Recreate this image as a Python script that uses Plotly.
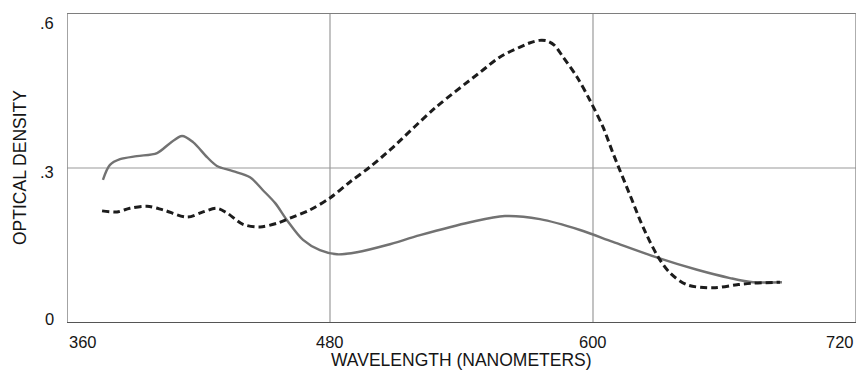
import plotly.graph_objects as go

# Absorption spectra: optical density vs wavelength (nm)
solid_wavelength = [376.4, 379.6, 384.2, 391.9, 401.1, 407.0, 412.5, 417.5, 423.9, 428.4,
                    435.7, 443.5, 449.4, 455.0, 460.4, 467.7, 475.4, 483.2, 492.3, 506.0,
                    521.1, 543.9, 559.8, 575.8, 594.1, 609.1, 629.7, 647.5, 662.5, 673.0, 686.2]
solid_density = [0.277, 0.306, 0.317, 0.323, 0.329, 0.348, 0.362, 0.350, 0.321, 0.304,
                 0.294, 0.282, 0.257, 0.232, 0.199, 0.161, 0.141, 0.133, 0.137, 0.151,
                 0.170, 0.195, 0.207, 0.201, 0.180, 0.157, 0.126, 0.103, 0.087, 0.079, 0.079]

dashed_wavelength = [376.0, 382.8, 388.7, 396.5, 403.8, 414.8, 422.1, 428.4, 433.0, 440.3,
                     448.1, 455.8, 461.7, 470.9, 480.0, 489.1, 498.2, 507.4, 527.9, 548.4,
                     557.6, 566.7, 571.0, 575.5, 579.0, 582.3, 586.3, 592.7, 598.6, 604.6,
                     609.1, 617.8, 622.8, 629.7, 635.1, 642.9, 654.7, 665.7, 673.0, 685.3]
dashed_density = [0.217, 0.215, 0.222, 0.226, 0.219, 0.205, 0.215, 0.222, 0.213, 0.191,
                  0.186, 0.193, 0.203, 0.219, 0.242, 0.273, 0.302, 0.335, 0.416, 0.485,
                  0.515, 0.534, 0.542, 0.547, 0.546, 0.538, 0.515, 0.476, 0.431, 0.379,
                  0.329, 0.238, 0.186, 0.128, 0.097, 0.074, 0.068, 0.074, 0.077, 0.079]

x_ticks = [360, 480, 600, 720]
x_tick_labels = ["360", "480", "600", "720"]
y_ticks = [0, 0.3, 0.6]
y_tick_labels = ["0", ".3", ".6"]

X_MIN, X_MAX = 360, 720
Y_MIN, Y_MAX = 0, 0.6

FONT = "Liberation Sans, Arial, Helvetica, sans-serif"
TEXT_COLOR = "#151515"
GRID_COLOR = "#9a9a9a"

fig = go.Figure()

fig.add_trace(go.Scatter(
    x=solid_wavelength, y=solid_density, mode="lines",
    line=dict(color="#727272", width=2.4, shape="spline", smoothing=0.9),
    hoverinfo="skip", showlegend=False,
))
fig.add_trace(go.Scatter(
    x=dashed_wavelength, y=dashed_density, mode="lines",
    line=dict(color="#1c1c1c", width=3, shape="spline", smoothing=0.9, dash="7px,4px"),
    hoverinfo="skip", showlegend=False,
))

shapes = []
# interior grid lines
for xv in x_ticks[1:-1]:
    shapes.append(dict(type="line", xref="x", yref="y", x0=xv, x1=xv, y0=Y_MIN, y1=Y_MAX,
                       line=dict(color=GRID_COLOR, width=1.2), layer="below"))
for yv in y_ticks[1:-1]:
    shapes.append(dict(type="line", xref="x", yref="y", x0=X_MIN, x1=X_MAX, y0=yv, y1=yv,
                       line=dict(color=GRID_COLOR, width=1.2), layer="below"))
# frame: left, top, right light; bottom darker
shapes.append(dict(type="line", xref="x", yref="y", x0=X_MIN, x1=X_MIN, y0=Y_MIN, y1=Y_MAX,
                   line=dict(color="#8c8c8c", width=1.6), layer="below"))
shapes.append(dict(type="line", xref="x", yref="y", x0=X_MIN, x1=X_MAX, y0=Y_MAX, y1=Y_MAX,
                   line=dict(color="#7e7e7e", width=1.8), layer="below"))
shapes.append(dict(type="line", xref="x", yref="y", x0=X_MAX, x1=X_MAX, y0=Y_MIN, y1=Y_MAX,
                   line=dict(color="#8c8c8c", width=1.4), layer="below"))
shapes.append(dict(type="line", xref="x", yref="y", x0=X_MIN, x1=X_MAX, y0=Y_MIN, y1=Y_MIN,
                   line=dict(color="#555555", width=2), layer="below"))

annotations = []
# x tick labels (end labels tucked inside the frame)
for xv, lab in zip(x_ticks, x_tick_labels):
    if xv == X_MIN:
        anchor = "left"
    elif xv == X_MAX:
        anchor = "right"
    else:
        anchor = "center"
    annotations.append(dict(x=xv, y=Y_MIN, xref="x", yref="y", text=lab, showarrow=False,
                            xanchor=anchor, yanchor="middle", yshift=-19,
                            font=dict(family=FONT, size=16.5, color=TEXT_COLOR)))
# y tick labels
y_shifts = {0: 4, 0.3: -4, 0.6: -10}
for yv, lab in zip(y_ticks, y_tick_labels):
    annotations.append(dict(x=X_MIN, y=yv, xref="x", yref="y", text=lab, showarrow=False,
                            xanchor="right", yanchor="middle", xshift=-11,
                            yshift=y_shifts.get(yv, 0),
                            font=dict(family=FONT, size=16.5, color=TEXT_COLOR)))
# axis titles
annotations.append(dict(x=0.5, y=0, xref="paper", yref="paper", text="WAVELENGTH (NANOMETERS)",
                        showarrow=False, xanchor="center", yanchor="middle", yshift=-37,
                        font=dict(family=FONT, size=17.5, color=TEXT_COLOR)))
annotations.append(dict(x=0, y=0.5, xref="paper", yref="paper", text="OPTICAL DENSITY",
                        showarrow=False, textangle=-90, xanchor="center", yanchor="middle",
                        xshift=-47, font=dict(family=FONT, size=17.5, color=TEXT_COLOR)))

fig.update_layout(
    width=860, height=374,
    margin=dict(l=67, r=4, t=13, b=51),
    paper_bgcolor="white", plot_bgcolor="white",
    xaxis=dict(range=[X_MIN, X_MAX], showgrid=False, zeroline=False, showline=False,
               showticklabels=False, ticks="", fixedrange=True),
    yaxis=dict(range=[Y_MIN, Y_MAX], showgrid=False, zeroline=False, showline=False,
               showticklabels=False, ticks="", fixedrange=True),
    shapes=shapes,
    annotations=annotations,
)

fig.write_html("out.html")
